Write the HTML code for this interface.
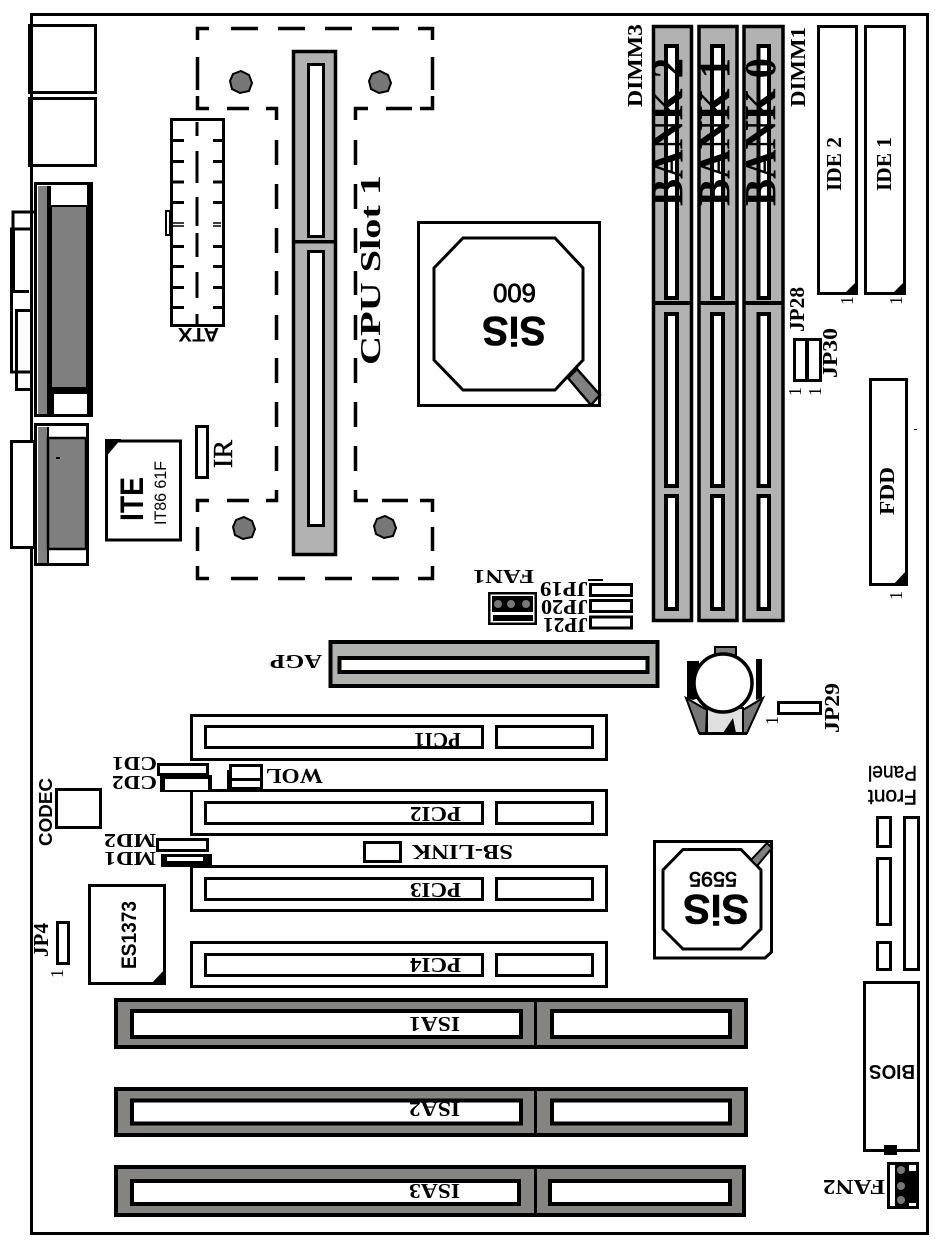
<!DOCTYPE html>
<html><head><meta charset="utf-8"><title>Motherboard layout</title>
<style>
html,body{margin:0;padding:0;background:#fff}
svg{display:block}
.s{font-family:"Liberation Serif",serif;font-weight:bold;fill:#000}
.a{font-family:"Liberation Sans",sans-serif;fill:#000}
.ab{font-family:"Liberation Sans",sans-serif;font-weight:bold;fill:#000}
.w{fill:#fff;stroke:#000;stroke-width:3}
.t{fill:#fff;stroke:#000;stroke-width:4}
.g{fill:#b2b2b2;stroke:#000;stroke-width:3.500}
.i{fill:#868480;stroke:#000;stroke-width:4}
</style></head><body>
<svg width="935" height="1241" viewBox="0 0 935 1241" xmlns="http://www.w3.org/2000/svg">
<rect width="935" height="1241" fill="#fff"/>
<rect x="31.5" y="14.5" width="896" height="1219" fill="none" stroke="#000" stroke-width="3"/>

<!-- back panel -->
<rect class="w" x="29.5" y="25.5" width="66" height="67"/>
<rect x="28" y="24" width="5" height="70"/>
<rect class="w" x="29.5" y="98.5" width="66" height="67"/>
<rect x="28" y="97" width="5" height="70"/>

<path d="M34 212H13V229M33 229H11.500V372H33M11 291.500H29M33 310.500H16.500V389.500H33" fill="none" stroke="#000" stroke-width="3"/>
<rect x="10" y="229" width="5" height="62"/>
<rect class="w" x="35.500" y="183.500" width="56" height="232"/>
<rect x="38" y="186" width="9" height="228" fill="#808080"/>
<rect x="47" y="186" width="4" height="228"/>
<rect x="51" y="206" width="36" height="182" fill="#7f7f7f" stroke="#000" stroke-width="2"/>
<rect x="87" y="184" width="6" height="231"/>
<rect x="47" y="388" width="40" height="6"/>
<rect x="47" y="392" width="7" height="23"/>

<rect class="w" x="11.500" y="441.500" width="23" height="106"/>
<rect class="w" x="35.500" y="424.500" width="52" height="140"/>
<rect x="38" y="427" width="9" height="136" fill="#808080"/>
<rect x="47" y="427" width="2" height="136"/>
<rect x="48" y="438" width="38" height="111" fill="#7f7f7f" stroke="#000" stroke-width="2.500"/>
<rect x="85" y="438" width="3" height="111"/>
<rect x="56" y="457" width="4" height="2"/>

<!-- ITE -->
<rect class="w" x="106.500" y="441" width="74" height="99"/>
<polygon points="105,439 121,439 105,458"/>
<text class="ab" transform="translate(143,521) rotate(-90)" font-size="32" textLength="44" lengthAdjust="spacingAndGlyphs">ITE</text>
<text class="a" transform="translate(166,525) rotate(-90)" font-size="16.500" textLength="64" lengthAdjust="spacingAndGlyphs">IT86 61F</text>

<rect class="w" x="196.500" y="426.500" width="11" height="51"/>
<text class="s" transform="translate(232,468) rotate(-90)" font-size="27" textLength="28" lengthAdjust="spacingAndGlyphs" style="font-weight:normal" stroke="#000" stroke-width=".4">IR</text>

<!-- ATX -->
<rect class="w" x="171.500" y="119.500" width="52" height="206"/>
<rect class="w" x="166" y="211" width="4" height="24" style="stroke-width:2"/>
<path d="M172 140.500h12M172 161.500h12M172 182h12M172 202.500h12M172 246.500h12M172 266.500h12M172 287.500h12M172 307.500h12M213 140.500h11M213 161.500h11M213 182h11M213 202.500h11M213 246.500h11M213 266.500h11M213 287.500h11M213 307.500h11M197 122v14M197 151v32M197 197v29M197 233v24M197 272v26M197 314v11" stroke="#000" stroke-width="3" fill="none"/>
<path d="M172 223h12M172 226h12M213 223h8M213 226h8" stroke="#000" stroke-width="1.500"/>
<text class="ab" transform="translate(219,328) rotate(180)" font-size="19" textLength="41" lengthAdjust="spacingAndGlyphs">ATX</text>

<!-- CPU slot outline -->
<path d="M209 28.500H197.500V40M231 28.500H258M278 28.500H305M325 28.500H352M372 28.500H399M418 28.500H432.500V40M197.500 57V90M197.500 96V108.500H209M227 108.500H249M266 108.500H276.500V120M276.500 140V165M276.500 184V209M276.500 228V253M276.500 271V295M276.500 315V340M276.500 358V383M276.500 402V427M276.500 446V471M276.500 490V500.500H266M249 500.500H227M209 500.500H197.500V512M197.500 527V551M197.500 566V578.500H209M231 578.500H258M278 578.500H305M325 578.500H352M372 578.500H399M418 578.500H432.500V566M432.500 551V527M432.500 512V500.500H420M408 500.500H382M368 500.500H355.500V490M355.500 471V446M355.500 427V402M355.500 383V358M355.500 340V315M355.500 295V271M355.500 253V228M355.500 209V184M355.500 165V140M355.500 120V108.500H368M386 108.500H412M420 108.500H432.500V96M432.500 90V57" fill="none" stroke="#000" stroke-width="3.500"/>
<polygon points="241,71 249,75 252,83 249,91 240,93 232,89 230,81 233,74" fill="#777" stroke="#000" stroke-width="2"/>
<polygon points="380,71 388,75 391,83 388,91 379,93 371,89 369,81 372,74" fill="#777" stroke="#000" stroke-width="2"/>
<polygon points="244,517 252,521 255,529 252,537 243,539 235,535 233,527 236,520" fill="#777" stroke="#000" stroke-width="2"/>
<polygon points="385,516 393,520 396,528 393,536 384,538 376,534 374,526 377,519" fill="#777" stroke="#000" stroke-width="2"/>

<!-- Slot 1 -->
<rect class="g" x="293.500" y="51.500" width="42" height="503"/>
<rect x="293" y="240" width="43" height="3.500"/>
<rect class="w" x="308.500" y="64.500" width="15" height="172"/>
<rect class="w" x="308.500" y="251.500" width="15" height="274"/>
<text class="s" transform="translate(380,365) rotate(-90)" font-size="28" textLength="190" lengthAdjust="spacingAndGlyphs">CPU Slot 1</text>

<!-- SiS 600 -->
<rect class="w" x="418.500" y="222.500" width="181" height="183"/>
<polygon points="463,238 555,238 583,268 583,360 555,390 463,390 434,360 434,268" fill="#fff" stroke="#000" stroke-width="3"/>
<polygon points="568,378 577,369 600,395 591,405" fill="#808080" stroke="#000" stroke-width="2.500"/>
<text class="ab" transform="translate(546,317) rotate(180)" font-size="41" textLength="64" lengthAdjust="spacingAndGlyphs" stroke="#000" stroke-width=".6">SiS</text>
<text class="a" transform="translate(536,284) rotate(180)" font-size="26" textLength="43" lengthAdjust="spacingAndGlyphs" stroke="#000" stroke-width=".8">600</text>

<!-- DIMM -->
<g>
<rect class="g" x="653.500" y="26.500" width="38" height="594"/>
<rect x="653" y="301" width="39" height="4"/>
<rect class="t" x="666" y="46" width="11" height="252"/>
<rect class="t" x="666" y="314" width="11" height="172"/>
<rect class="t" x="666" y="496" width="11" height="113"/>
<rect class="g" x="699" y="26.500" width="38" height="594"/>
<rect x="698" y="301" width="40" height="4"/>
<rect class="t" x="712" y="46" width="11" height="252"/>
<rect class="t" x="712" y="314" width="11" height="172"/>
<rect class="t" x="712" y="496" width="11" height="113"/>
<rect class="g" x="744" y="26.500" width="39" height="594"/>
<rect x="743" y="301" width="41" height="4"/>
<rect class="t" x="758.500" y="46" width="10.500" height="252"/>
<rect class="t" x="758.500" y="314" width="10.500" height="172"/>
<rect class="t" x="758.500" y="496" width="10.500" height="113"/>
</g>
<text class="s" transform="translate(682,206) rotate(-90)" font-size="44" textLength="148" lengthAdjust="spacingAndGlyphs">BANK 2</text>
<text class="s" transform="translate(729,206) rotate(-90)" font-size="44" textLength="148" lengthAdjust="spacingAndGlyphs">BANK 1</text>
<text class="s" transform="translate(775,206) rotate(-90)" font-size="44" textLength="148" lengthAdjust="spacingAndGlyphs">BANK 0</text>
<text class="s" transform="translate(642,107) rotate(-90)" font-size="21" textLength="83" lengthAdjust="spacingAndGlyphs">DIMM3</text>
<text class="s" transform="translate(805,107) rotate(-90)" font-size="21" textLength="80" lengthAdjust="spacingAndGlyphs">DIMM1</text>

<!-- IDE -->
<rect class="w" x="818.500" y="26.500" width="38" height="267"/>
<polygon points="857,281 857,295 843,295"/>
<rect class="w" x="865.500" y="26.500" width="39" height="267"/>
<polygon points="905,281 905,295 891,295"/>
<text class="s" transform="translate(841,191) rotate(-90)" font-size="21" textLength="54" lengthAdjust="spacingAndGlyphs">IDE 2</text>
<text class="s" transform="translate(891,191) rotate(-90)" font-size="21" textLength="54" lengthAdjust="spacingAndGlyphs">IDE 1</text>
<text class="s" transform="translate(853,305) rotate(-90)" font-size="18" style="font-weight:normal">1</text>
<text class="s" transform="translate(902,305) rotate(-90)" font-size="18" style="font-weight:normal">1</text>

<!-- JP28/30 -->
<rect class="w" x="794.500" y="339.500" width="26" height="41"/>
<rect x="805" y="339" width="4" height="42"/>
<text class="s" transform="translate(804,332) rotate(-90)" font-size="21" textLength="45" lengthAdjust="spacingAndGlyphs">JP28</text>
<text class="s" transform="translate(837,378) rotate(-90)" font-size="21" textLength="50" lengthAdjust="spacingAndGlyphs">JP30</text>
<text class="s" transform="translate(801,396) rotate(-90)" font-size="18" style="font-weight:normal">1</text>
<text class="s" transform="translate(821,396) rotate(-90)" font-size="18" style="font-weight:normal">1</text>

<!-- FDD -->
<rect class="w" x="870.500" y="379.500" width="36" height="205"/>
<polygon points="907,570 907,586 892,586"/>
<rect x="914" y="429" width="3" height="1"/>
<text class="s" transform="translate(894,515) rotate(-90)" font-size="21" textLength="48" lengthAdjust="spacingAndGlyphs">FDD</text>
<text class="s" transform="translate(902,600) rotate(-90)" font-size="18" style="font-weight:normal">1</text>

<!-- FAN1 + JP19-21 -->
<rect x="488" y="592" width="49" height="33"/>
<rect x="490.500" y="594.500" width="44" height="28" fill="#fff"/>
<rect x="492" y="596" width="41" height="16"/>
<rect x="493" y="615" width="40" height="6"/>
<circle cx="498" cy="604" r="4" fill="#777"/><circle cx="511" cy="604" r="4" fill="#777"/><circle cx="526" cy="604" r="4" fill="#777"/>
<text class="s" transform="translate(534,570) rotate(180)" font-size="20" textLength="61" lengthAdjust="spacingAndGlyphs">FAN1</text>
<rect class="w" x="590.500" y="584.500" width="41" height="11"/>
<rect class="w" x="590.500" y="600.500" width="41" height="11"/>
<rect class="w" x="590.500" y="617" width="41" height="11"/>
<path d="M588 580H603" stroke="#000" stroke-width="2"/>
<text class="s" transform="translate(588,582) rotate(180)" font-size="21" textLength="48" lengthAdjust="spacingAndGlyphs">JP19</text>
<text class="s" transform="translate(588,600) rotate(180)" font-size="21" textLength="47" lengthAdjust="spacingAndGlyphs">JP20</text>
<text class="s" transform="translate(588,618) rotate(180)" font-size="21" textLength="45" lengthAdjust="spacingAndGlyphs">JP21</text>

<!-- AGP -->
<rect class="g" x="330.500" y="642" width="327" height="44" style="fill:#b0b3ad;stroke-width:4"/>
<rect class="t" x="339.500" y="658" width="308" height="14"/>
<text class="s" transform="translate(322,655) rotate(180)" font-size="20" textLength="52" lengthAdjust="spacingAndGlyphs">AGP</text>

<!-- Battery -->
<polygon points="687,661 699,661 699,698 693,700 687,698"/>
<polygon points="756,659 762,659 762,698 756,700"/>
<rect x="715" y="647" width="21" height="8" fill="#808080" stroke="#000" stroke-width="2"/>
<polygon points="686,698 707,710 706,733 699,733" fill="#777" stroke="#000" stroke-width="2"/>
<polygon points="763,698 743,710 743,733 747,733" fill="#777" stroke="#000" stroke-width="2"/>
<polygon points="707,708 743,708 743,733 707,733" fill="#e0e0e0" stroke="#000" stroke-width="2"/>
<polygon points="723,733 733,718 736,733"/>
<rect x="699" y="732" width="48" height="3"/>
<circle cx="723" cy="683" r="29" fill="#fff" stroke="#000" stroke-width="3.500"/>
<rect class="w" x="778.500" y="702.500" width="42" height="11"/>
<text class="s" transform="translate(839,733) rotate(-90)" font-size="21" textLength="50" lengthAdjust="spacingAndGlyphs">JP29</text>
<text class="s" transform="translate(778,725) rotate(-90)" font-size="18" style="font-weight:normal">1</text>

<!-- PCI -->
<g>
<rect class="w" x="191.500" y="715.500" width="415" height="44"/>
<rect class="w" x="205.500" y="726.500" width="277" height="21"/>
<rect class="w" x="496.500" y="726.500" width="96" height="21"/>
<rect class="w" x="191.500" y="790.500" width="415" height="44"/>
<rect class="w" x="205.500" y="802.500" width="277" height="21"/>
<rect class="w" x="496.500" y="802.500" width="96" height="21"/>
<rect class="w" x="191.500" y="866.500" width="415" height="44"/>
<rect class="w" x="205.500" y="878.500" width="277" height="21"/>
<rect class="w" x="496.500" y="878.500" width="96" height="21"/>
<rect class="w" x="191.500" y="942.500" width="415" height="44"/>
<rect class="w" x="205.500" y="954.500" width="277" height="21"/>
<rect class="w" x="496.500" y="954.500" width="96" height="21"/>
</g>
<text class="s" transform="translate(461,733) rotate(180)" font-size="21" textLength="47" lengthAdjust="spacingAndGlyphs">PCI1</text>
<text class="s" transform="translate(461,807) rotate(180)" font-size="21" textLength="51" lengthAdjust="spacingAndGlyphs">PCI2</text>
<text class="s" transform="translate(461,883) rotate(180)" font-size="21" textLength="51" lengthAdjust="spacingAndGlyphs">PCI3</text>
<text class="s" transform="translate(461,958) rotate(180)" font-size="21" textLength="51" lengthAdjust="spacingAndGlyphs">PCI4</text>

<!-- CD, WOL -->
<rect class="w" x="158.500" y="764.500" width="49" height="10"/>
<rect x="160" y="775" width="52" height="17"/>
<rect x="165" y="779" width="43" height="11" fill="#fff"/>
<rect x="229" y="764" width="34" height="26"/>
<rect x="232" y="767" width="28" height="11" fill="#fff"/>
<rect x="232" y="781" width="28" height="6" fill="#fff"/>
<rect x="227" y="770" width="3" height="20"/>
<text class="s" transform="translate(157,757) rotate(180)" font-size="20" textLength="45" lengthAdjust="spacingAndGlyphs">CD1</text>
<text class="s" transform="translate(157,776) rotate(180)" font-size="20" textLength="45" lengthAdjust="spacingAndGlyphs">CD2</text>
<text class="s" transform="translate(323,769) rotate(180)" font-size="21" textLength="57" lengthAdjust="spacingAndGlyphs">WOL</text>

<!-- CODEC -->
<rect class="w" x="56.500" y="789.500" width="44" height="38"/>
<text class="ab" transform="translate(52,846) rotate(-90)" font-size="18" textLength="68" lengthAdjust="spacingAndGlyphs">CODEC</text>

<!-- MD -->
<rect class="w" x="157.500" y="839.500" width="50" height="11"/>
<rect x="161" y="854" width="51" height="13"/>
<rect x="167" y="857" width="36" height="4" fill="#fff"/>
<text class="s" transform="translate(156,834) rotate(180)" font-size="20" textLength="52" lengthAdjust="spacingAndGlyphs">MD2</text>
<text class="s" transform="translate(156,852) rotate(180)" font-size="20" textLength="52" lengthAdjust="spacingAndGlyphs">MD1</text>

<!-- SB-LINK -->
<rect class="w" x="364.500" y="842.500" width="36" height="19"/>
<text class="s" transform="translate(513,845) rotate(180)" font-size="21" textLength="101" lengthAdjust="spacingAndGlyphs">SB-LINK</text>

<!-- ES1373 -->
<rect class="w" x="89.500" y="885.500" width="75" height="98"/>
<polygon points="166,968 166,985 150,985"/>
<text class="ab" transform="translate(136,969) rotate(-90)" font-size="21" textLength="68" lengthAdjust="spacingAndGlyphs">ES1373</text>
<rect class="w" x="57.500" y="922.500" width="11" height="41"/>
<text class="s" transform="translate(48,957) rotate(-90)" font-size="21" textLength="34" lengthAdjust="spacingAndGlyphs">JP4</text>
<text class="s" transform="translate(63,978) rotate(-90)" font-size="18" style="font-weight:normal">1</text>

<!-- SiS 5595 -->
<polygon points="654.500,841.500 771.500,841.500 771.500,952 765,958 654.500,958" fill="#fff" stroke="#000" stroke-width="3"/>
<polygon points="683,849.500 741,849.500 761,870 761,929 741,949 683,949 663,929 663,870" fill="#fff" stroke="#000" stroke-width="3"/>
<polygon points="751,860 767,843 772,848 757,866" fill="#808080" stroke="#000" stroke-width="2"/>
<text class="ab" transform="translate(749,895) rotate(180)" font-size="42" textLength="66" lengthAdjust="spacingAndGlyphs" stroke="#000" stroke-width=".6">SiS</text>
<text class="a" transform="translate(737,872) rotate(180)" font-size="21" textLength="48" lengthAdjust="spacingAndGlyphs" stroke="#000" stroke-width=".7">5595</text>

<!-- Front panel -->
<text class="a" transform="translate(917,790) rotate(180)" font-size="21" textLength="49" lengthAdjust="spacingAndGlyphs" stroke="#000" stroke-width=".4">Front</text>
<text class="a" transform="translate(917,766) rotate(180)" font-size="21" textLength="49" lengthAdjust="spacingAndGlyphs" stroke="#000" stroke-width=".4">Panel</text>
<rect class="w" x="877.500" y="817.500" width="13" height="29"/>
<rect class="w" x="877.500" y="858.500" width="13" height="66"/>
<rect class="w" x="877.500" y="942.500" width="13" height="27"/>
<rect class="w" x="904.500" y="817.500" width="14" height="152"/>

<!-- BIOS -->
<rect class="w" x="864.500" y="982.500" width="54" height="168"/>
<rect x="884" y="1145" width="13" height="10"/>
<text class="ab" transform="translate(915,1065) rotate(180)" font-size="20" textLength="46" lengthAdjust="spacingAndGlyphs">BIOS</text>

<!-- FAN2 -->
<rect x="887" y="1162" width="32" height="47"/>
<rect x="890" y="1165" width="26" height="41" fill="#fff"/>
<rect x="895" y="1165" width="14" height="41"/>
<rect x="909" y="1171" width="7" height="32"/>
<circle cx="901" cy="1170" r="4" fill="#777"/><circle cx="901" cy="1186" r="4" fill="#777"/><circle cx="901" cy="1200" r="4" fill="#777"/>
<text class="s" transform="translate(885,1180) rotate(180)" font-size="21" textLength="62" lengthAdjust="spacingAndGlyphs">FAN2</text>

<!-- ISA -->
<g>
<rect class="i" x="116" y="1000" width="630" height="47"/>
<rect x="534" y="999" width="3" height="49"/>
<rect class="t" x="132" y="1011" width="389" height="26"/>
<rect class="t" x="552" y="1011" width="178" height="26"/>
<rect class="i" x="116" y="1089" width="630" height="46"/>
<rect x="534" y="1088" width="3" height="48"/>
<rect class="t" x="132" y="1100.500" width="389" height="23"/>
<rect class="t" x="552" y="1100.500" width="178" height="23"/>
<rect class="i" x="116" y="1167" width="628" height="48"/>
<rect x="534" y="1166" width="3" height="50"/>
<rect class="t" x="132" y="1181" width="387" height="23"/>
<rect class="t" x="550" y="1181" width="180" height="23"/>
</g>
<text class="s" transform="translate(460,1017) rotate(180)" font-size="21" textLength="51" lengthAdjust="spacingAndGlyphs">ISA1</text>
<text class="s" transform="translate(460,1102) rotate(180)" font-size="21" textLength="51" lengthAdjust="spacingAndGlyphs">ISA2</text>
<text class="s" transform="translate(460,1184) rotate(180)" font-size="21" textLength="51" lengthAdjust="spacingAndGlyphs">ISA3</text>
</svg>
</body></html>
